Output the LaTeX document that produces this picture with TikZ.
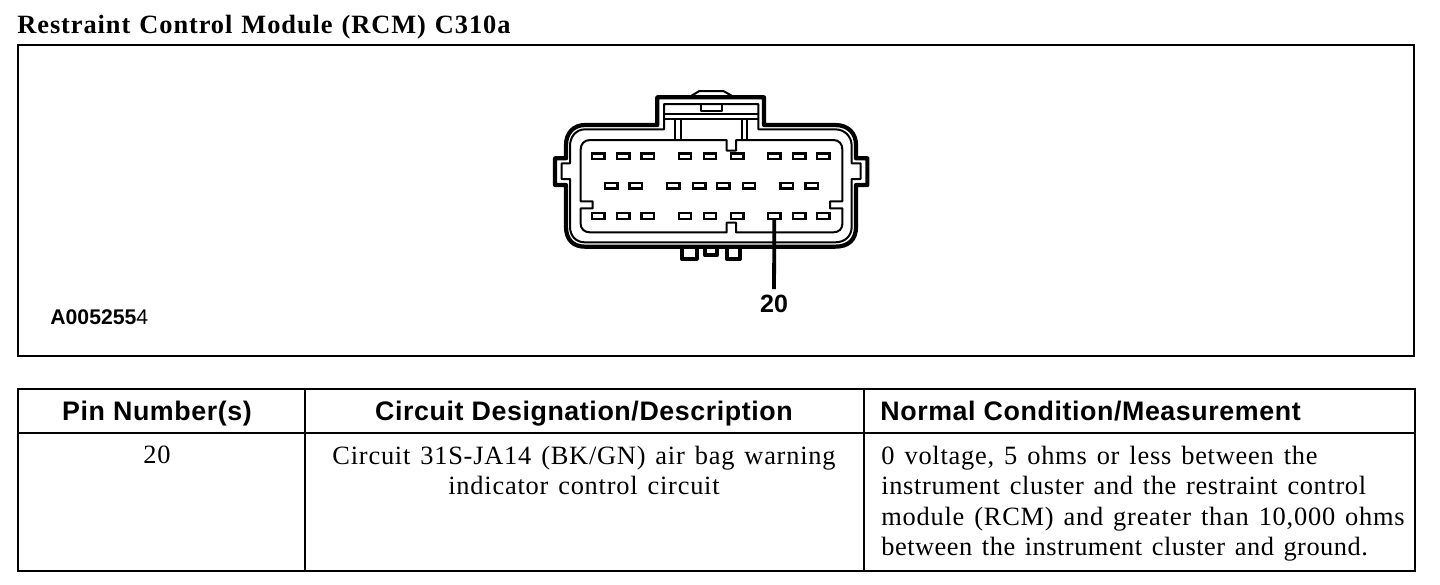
\documentclass[tikz,border=0pt]{standalone}
\usepackage{fontspec}
\setmainfont{Liberation Serif}
\setsansfont{Liberation Sans}
\newfontfamily\bodyfont[LetterSpace=2.9,WordSpace=1.35]{Liberation Serif}
\newfontfamily\bodyfontb[LetterSpace=2.4,WordSpace=1.35]{Liberation Serif}
\newfontfamily\bodyfontc[LetterSpace=1.9,WordSpace=1.35]{Liberation Serif}
\newfontfamily\titlefont[LetterSpace=3.5,WordSpace=1.2]{Liberation Serif}
\tikzset{
  frame/.style={draw=black,line width=1pt},
  rule/.style={draw=black,line width=1pt},
  body/.style={inner sep=0pt,font=\bodyfont\fontsize{13.2}{15}\selectfont},
  bodyb/.style={inner sep=0pt,font=\bodyfontb\fontsize{13.2}{15}\selectfont},
  bodyc/.style={inner sep=0pt,font=\bodyfontc\fontsize{13.2}{15}\selectfont},
  head/.style={inner sep=0pt,font=\sffamily\bfseries\fontsize{13.4}{15}\selectfont\addfontfeatures{LetterSpace=2.2}},
  heavy/.style={line width=2.1pt,line join=round},
  med/.style={line width=1pt,line join=round},
  pin/.style={draw=black,line width=1.1pt,minimum width=6.1pt,minimum height=2.8pt,inner sep=0pt,rectangle,outer sep=0pt},
}
\begin{document}
\begin{tikzpicture}[x=0.5pt,y=-0.5pt]
\useasboundingbox (0,0) rectangle (1440,584);
\fill[white] (0,0) rectangle (1440,584);
% title
\node[anchor=base west,inner sep=0pt,font=\titlefont\bfseries\fontsize{13.2}{15}\selectfont] (title) at (17,33) {Restraint Control Module (RCM) C310a};
% frame
\node[frame,rectangle,inner sep=0pt,minimum width=698pt,minimum height=155.5pt,anchor=north west] (figframe) at (16.5,43.5) {};
\node[anchor=base west,inner sep=0pt,font=\sffamily\fontsize{10.6}{12}\selectfont] (code) at (50,324) {{\bfseries A005255}4};
% connector
\begin{scope}[shift={(540,80)}]
\begin{scope}[x=0.16667pt,y=-0.16667pt]
% latch bump
\draw[med] (450,50) -- (478,33) -- (550,33) -- (580,50);
% outer body
\draw[heavy] (352,135) -- (352,52) -- (672,52) -- (672,135) -- (885,135)
  .. controls (925,135) and (948,160) .. (948,195) -- (948,235) -- (982,235) -- (982,315) -- (948,315) -- (948,440)
  .. controls (948,480) and (925,500) .. (885,500) -- (135,500)
  .. controls (100,500) and (78,480) .. (78,440) -- (78,315) -- (45,315) -- (45,235) -- (78,235) -- (78,195)
  .. controls (78,160) and (100,135) .. (135,135) -- cycle;
% inner contour
\draw[med] (372,148) -- (372,72) -- (655,72) -- (655,148) -- (885,148)
  .. controls (915,148) and (935,170) .. (935,198) -- (935,250) -- (962,250) -- (962,297) -- (935,297) -- (935,440)
  .. controls (935,468) and (915,487) .. (885,487) -- (135,487)
  .. controls (108,487) and (90,468) .. (90,440) -- (90,297) -- (65,297) -- (65,250) -- (90,250) -- (90,198)
  .. controls (90,170) and (108,148) .. (135,148) -- cycle;
% latch details
\draw[med] (372,102) -- (655,102);
\draw[med] (372,117) -- (655,117);
\draw[med] (482,74) -- (482,94) -- (546,94) -- (546,74);
\draw[med] (405,117) -- (405,180);
\draw[med] (423,117) -- (423,180);
\draw[med] (605,117) -- (605,180);
\draw[med] (622,117) -- (622,180);
% cavity
\draw[med] (150,180) -- (560,180) -- (560,212) -- (588,212) -- (588,180) -- (880,180)
  .. controls (897,180) and (907,192) .. (907,208) -- (907,364) -- (870,364) -- (870,385) -- (907,385) -- (907,432)
  .. controls (907,446) and (897,457) .. (880,457) -- (588,457) -- (588,428) -- (560,428) -- (560,457) -- (150,457)
  .. controls (133,457) and (122,446) .. (122,432) -- (122,385) -- (158,385) -- (158,364) -- (122,364) -- (122,208)
  .. controls (122,192) and (133,180) .. (150,180) -- cycle;
% lugs
\draw[heavy] (425,500) -- (425,536) -- (470,536) -- (470,500);
\draw[heavy] (495,500) -- (495,526) -- (530,526) -- (530,500);
\draw[heavy] (560,500) -- (560,536) -- (600,536) -- (600,500);
% pins
\foreach \n/\x in {1/175,2/250,3/323,4/435,5/510,6/592,7/703,8/778,9/850}{
  \node[pin] (a\n) at (\x,229) {};
  \node[pin] (c\n) at (\x,408) {};
}
\foreach \n/\x in {1/214,2/287,3/400,4/478,5/550,6/627,7/740,8/815}{
  \node[pin] (b\n) at (\x,317) {};
}
\end{scope}
\end{scope}
\node[anchor=base,inner sep=0pt,font=\sffamily\bfseries\fontsize{12.5}{15}\selectfont] (lbl) at (774,312) {20};
\draw[line width=1.9pt,shorten >=2.5pt] (c7.south) -- (lbl.north);
% table
\node[frame,rectangle,inner sep=0pt,minimum width=698.5pt,minimum height=91pt,anchor=north west] (tbl) at (16.5,387.5) {};
\coordinate (hl) at (tbl.west |- 0,433);
\coordinate (hr) at (tbl.east |- 0,433);
\coordinate (c1t) at (305,387.5);
\coordinate (c1b) at (305,570);
\coordinate (c2t) at (864,387.5);
\coordinate (c2b) at (864,570);
\draw[rule] (hl) -- (hr);
\draw[rule] (c1t) -- (c1b);
\draw[rule] (c2t) -- (c2b);
\node[head,anchor=base] (h1) at (157,420) {Pin Number(s)};
\node[head,anchor=base] (h2) at (584,420) {Circuit Designation/Description};
\node[head,anchor=base west] (h3) at (880,420) {Normal Condition/Measurement};
\node[body,anchor=base] (t1) at (157,463) {20};
\node[body,anchor=base] (t2) at (584,464) {Circuit 31S-JA14 (BK/GN) air bag warning};
\node[body,anchor=base] (t3) at (584,494) {indicator control circuit};
\node[body,anchor=base west] (t4) at (881,464) {0 voltage, 5 ohms or less between the};
\node[bodyb,anchor=base west] (t5) at (881,494) {instrument cluster and the restraint control};
\node[body,anchor=base west] (t6) at (881,525) {module (RCM) and greater than 10,000 ohms};
\node[bodyc,anchor=base west] (t7) at (881,555) {between the instrument cluster and ground.};
\end{tikzpicture}
\end{document}
